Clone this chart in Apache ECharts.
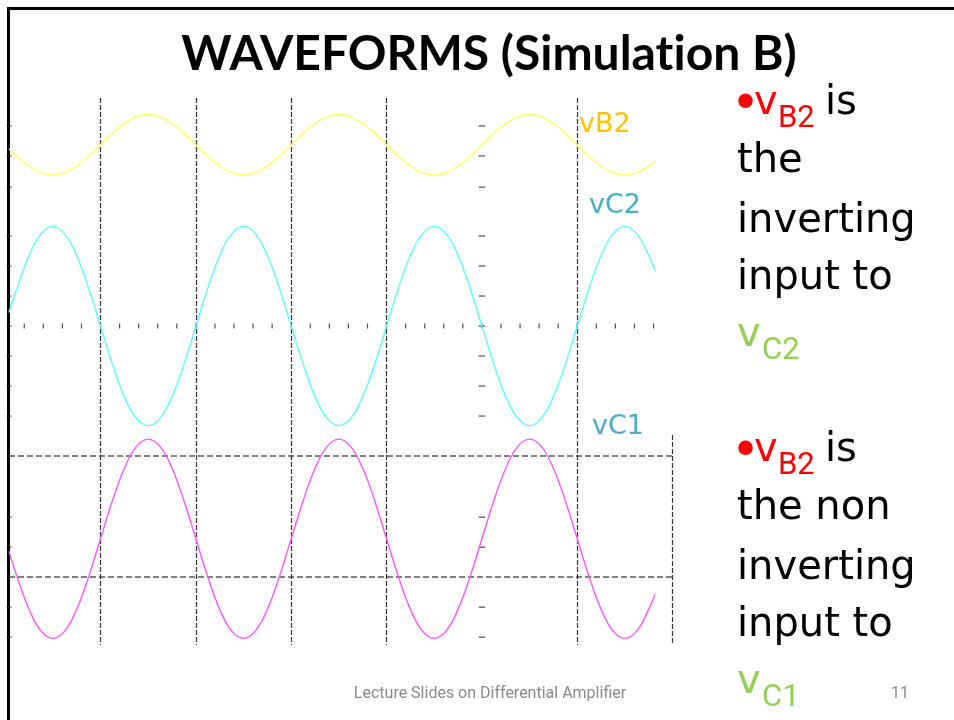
<!DOCTYPE html>
<html>
<head>
<meta charset="utf-8">
<title>WAVEFORMS (Simulation B)</title>
<script src="https://cdn.jsdelivr.net/npm/echarts@6.0.0/dist/echarts.min.js"></script>
<style>
html, body { margin: 0; padding: 0; background: #fff; }
#main { width: 954px; height: 720px; }
</style>
</head>
<body>
<div id="main"></div>
<script>
// time in screen divisions, 0 = centre line
var timeDiv = [-4.96, -4.875, -4.75, -4.625, -4.5, -4.375, -4.25, -4.125, -4, -3.875, -3.75, -3.625, -3.5, -3.375,
    -3.25, -3.125, -3, -2.875, -2.75, -2.625, -2.5, -2.375, -2.25, -2.125, -2, -1.875, -1.75, -1.625, -1.5, -1.375,
    -1.25, -1.125, -1, -0.875, -0.75, -0.625, -0.5, -0.375, -0.25, -0.125, 0, 0.125, 0.25, 0.375, 0.5, 0.625, 0.75,
    0.875, 1, 1.125, 1.25, 1.375, 1.5, 1.625, 1.75, 1.815];

// traces (vertical units, 0 = centre line)
var vB2 = [5.91,
    5.65, 5.33, 5.11, 5.03, 5.11, 5.33, 5.65, 6.04, 6.43, 6.75, 6.97, 7.05, 6.97, 6.75, 6.43, 6.04,
    5.65, 5.33, 5.11, 5.03, 5.11, 5.33, 5.65, 6.04, 6.43, 6.75, 6.97, 7.05, 6.97, 6.75, 6.43, 6.04,
    5.65, 5.33, 5.11, 5.03, 5.11, 5.33, 5.65, 6.04, 6.43, 6.75, 6.97, 7.05, 6.97, 6.75, 6.43, 6.04,
    5.65, 5.33, 5.11, 5.03, 5.11, 5.33, 5.49];
var vC2 = [0.45,
    1.27, 2.35, 3.07, 3.32, 3.07, 2.35, 1.27, 0, -1.27, -2.35, -3.07, -3.32, -3.07, -2.35, -1.27, 0,
    1.27, 2.35, 3.07, 3.32, 3.07, 2.35, 1.27, 0, -1.27, -2.35, -3.07, -3.32, -3.07, -2.35, -1.27, 0,
    1.27, 2.35, 3.07, 3.32, 3.07, 2.35, 1.27, 0, -1.27, -2.35, -3.07, -3.32, -3.07, -2.35, -1.27, 0,
    1.27, 2.35, 3.07, 3.32, 3.07, 2.35, 1.85];
var vC1 = [-7.51,
    -8.36, -9.44, -10.16, -10.41, -10.16, -9.44, -8.36, -7.09, -5.82, -4.74, -4.02, -3.77, -4.02, -4.74, -5.82, -7.09,
    -8.36, -9.44, -10.16, -10.41, -10.16, -9.44, -8.36, -7.09, -5.82, -4.74, -4.02, -3.77, -4.02, -4.74, -5.82, -7.09,
    -8.36, -9.44, -10.16, -10.41, -10.16, -9.44, -8.36, -7.09, -5.82, -4.74, -4.02, -3.77, -4.02, -4.74, -5.82, -7.09,
    -8.36, -9.44, -10.16, -10.41, -10.16, -9.44, -8.95];

// screen graticule
var xTicks = [-4.8, -4.6, -4.4, -4.2, -4.0, -3.8, -3.6, -3.4, -3.2, -3.0, -2.8, -2.6, -2.4, -2.2, -2.0, -1.8, -1.6,
    -1.4, -1.2, -1.0, -0.8, -0.6, -0.4, -0.2, 0, 0.2, 0.4, 0.6, 0.8, 1.0, 1.2, 1.4, 1.6, 1.8];
var yTicks = [6.67, 5.67, 4.63, 3.0, 2.0, 1.0, 0, -1.0, -2.0, -3.0, -6.37, -7.37, -9.37, -10.37];
var gridX = [-4, -3, -2, -1, 1];
var gridXShort = [2];
var gridY = [-4.33, -8.37];

var xMin = -4.96, xMax = 2, yMin = -10.63, yMax = 7.6;

function pairs(xs, ys) {
    var out = [];
    for (var i = 0; i < xs.length; i++) {
        out.push([xs[i], ys[i]]);
    }
    return out;
}

var xTickData = xTicks.map(function (x) { return [x, 0]; });
var yTickData = yTicks.map(function (y) { return [0, y]; });
var edgeTickData = yTicks.map(function (y) { return [xMin, y]; });

var vLines = [];
gridX.forEach(function (x) {
    vLines.push([{ coord: [x, yMax] }, { coord: [x, yMin] }]);
});
gridXShort.forEach(function (x) {
    vLines.push([{ coord: [x, -3.63] }, { coord: [x, yMin] }]);
});
var hLines = gridY.map(function (y) {
    return [{ coord: [xMin, y] }, { coord: [xMax, y] }];
});

var myChart = echarts.init(document.getElementById('main'));

function waveSeries(name, values, color) {
    return {
        name: name,
        type: 'line',
        data: pairs(timeDiv, values),
        smooth: 0.4,
        showSymbol: false,
        symbol: 'none',
        lineStyle: { color: color, width: 1.4 },
        z: 5,
        silent: true
    };
}

var body = '40px "DejaVu Sans"';
var sub = '31px Roboto';

var option = {
    animation: false,
    backgroundColor: '#fff',
    grid: { left: 9, right: 281.4, top: 98, bottom: 75 },
    xAxis: {
        type: 'value', min: xMin, max: xMax,
        axisLine: { show: false }, axisTick: { show: false },
        axisLabel: { show: false }, splitLine: { show: false }
    },
    yAxis: {
        type: 'value', min: yMin, max: yMax,
        axisLine: { show: false }, axisTick: { show: false },
        axisLabel: { show: false }, splitLine: { show: false }
    },
    series: [
        {
            type: 'scatter', data: xTickData, symbol: 'rect', symbolSize: [1.2, 5],
            itemStyle: { color: '#222' }, silent: true, z: 2,
            markLine: {
                silent: true, symbol: ['none', 'none'], label: { show: false },
                lineStyle: { color: '#555', width: 1.6, type: [6, 3] },
                data: hLines
            }
        },
        {
            type: 'scatter', data: yTickData, symbol: 'rect', symbolSize: [6.5, 1.2],
            itemStyle: { color: '#222' }, silent: true, z: 2,
            markLine: {
                silent: true, symbol: ['none', 'none'], label: { show: false },
                lineStyle: { color: '#333', width: 1.2, type: [5, 2] },
                data: vLines
            }
        },
        {
            type: 'scatter', data: edgeTickData, symbol: 'rect', symbolSize: [5, 1.2],
            itemStyle: { color: '#222' }, silent: true, z: 2
        },
        waveSeries('vB2', vB2, '#FFFF55'),
        waveSeries('vC2', vC2, '#55FFFF'),
        waveSeries('vC1', vC1, '#FF55FF')
    ],
    graphic: [
        // slide frame
        {
            type: 'polyline', silent: true,
            shape: { points: [[8.5, 720], [8.5, 8.5], [954, 8.5]] },
            style: { stroke: '#000', lineWidth: 3, fill: null }
        },
        {
            type: 'text', x: 489, y: 55,
            style: { text: 'WAVEFORMS (Simulat\u200Cion B)', font: 'bold 48px Lato', fill: '#000', align: 'center', verticalAlign: 'middle' }
        },
        // trace labels
        { type: 'text', x: 579, y: 124.7, style: { text: 'vB2', font: '27px "DejaVu Sans"', fill: '#FFC000', verticalAlign: 'middle' } },
        { type: 'text', x: 589, y: 205.7, style: { text: 'vC2', font: '27px "DejaVu Sans"', fill: '#4BACC6', verticalAlign: 'middle' } },
        { type: 'text', x: 592, y: 426.7, style: { text: 'vC1', font: '27px "DejaVu Sans"', fill: '#4BACC6', verticalAlign: 'middle' } },

        // first bullet
        { type: 'text', x: 745.5, y: 106, style: { text: '•', font: '50px "DejaVu Sans"', fill: '#FF0000', align: 'center', verticalAlign: 'middle' } },
        { type: 'text', x: 754, y: 103.2, style: { text: 'v', font: body, fill: '#FF0000', verticalAlign: 'middle' } },
        { type: 'text', x: 778, y: 119.4, style: { text: 'B2', font: sub, fill: '#FF0000', verticalAlign: 'middle' } },
        { type: 'text', x: 825, y: 103.2, style: { text: 'is', font: body, fill: '#000', verticalAlign: 'middle' } },
        { type: 'text', x: 737, y: 161.2, style: { text: 'the', font: body, fill: '#000', verticalAlign: 'middle' } },
        { type: 'text', x: 737, y: 221.2, style: { text: 'inverting', font: body, fill: '#000', verticalAlign: 'middle' } },
        { type: 'text', x: 737, y: 278.2, style: { text: 'input to', font: body, fill: '#000', verticalAlign: 'middle' } },
        { type: 'text', x: 737, y: 335.5, style: { text: 'v', font: body, fill: '#92D050', verticalAlign: 'middle' } },
        { type: 'text', x: 762, y: 351.5, style: { text: 'C2', font: sub, fill: '#92D050', verticalAlign: 'middle' } },

        // second bullet
        { type: 'text', x: 745.5, y: 453, style: { text: '•', font: '50px "DejaVu Sans"', fill: '#FF0000', align: 'center', verticalAlign: 'middle' } },
        { type: 'text', x: 754, y: 450.2, style: { text: 'v', font: body, fill: '#FF0000', verticalAlign: 'middle' } },
        { type: 'text', x: 778, y: 466.4, style: { text: 'B2', font: sub, fill: '#FF0000', verticalAlign: 'middle' } },
        { type: 'text', x: 825, y: 450.2, style: { text: 'is', font: body, fill: '#000', verticalAlign: 'middle' } },
        { type: 'text', x: 737, y: 508.2, style: { text: 'the non', font: body, fill: '#000', verticalAlign: 'middle' } },
        { type: 'text', x: 737, y: 568.2, style: { text: 'inverting', font: body, fill: '#000', verticalAlign: 'middle' } },
        { type: 'text', x: 737, y: 625.2, style: { text: 'input to', font: body, fill: '#000', verticalAlign: 'middle' } },
        { type: 'text', x: 737, y: 682.5, style: { text: 'v', font: body, fill: '#92D050', verticalAlign: 'middle' } },
        { type: 'text', x: 762, y: 698.5, style: { text: 'C1', font: sub, fill: '#92D050', verticalAlign: 'middle' } },

        // footer
        { type: 'text', x: 490, y: 694, style: { text: 'Lecture Slides on Differential Amplifier', font: '16px Roboto', fill: '#898989', align: 'center', verticalAlign: 'middle' } },
        { type: 'text', x: 900, y: 694, style: { text: '11', font: '16px Roboto', fill: '#898989', align: 'center', verticalAlign: 'middle' } }
    ]
};

myChart.setOption(option);
</script>
</body>
</html>
